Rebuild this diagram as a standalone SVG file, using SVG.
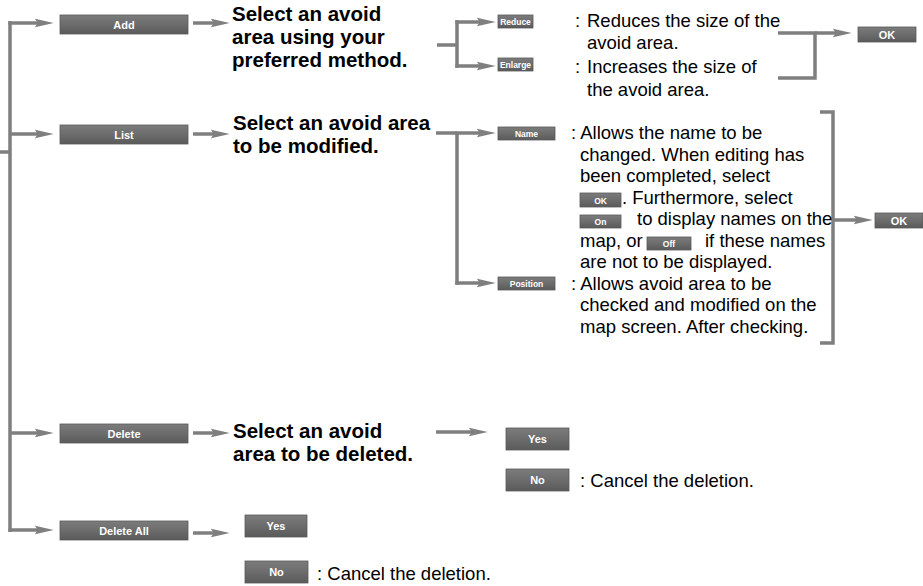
<svg xmlns="http://www.w3.org/2000/svg" width="923" height="586" viewBox="0 0 923 586">
<defs>
<linearGradient id="bg" x1="0" y1="0" x2="0" y2="1">
<stop offset="0" stop-color="#7c7c7c"/>
<stop offset="0.5" stop-color="#6c6c6c"/>
<stop offset="1" stop-color="#5a5a5a"/>
</linearGradient>
<marker id="ah" viewBox="0 0 18 9" markerWidth="19" markerHeight="9.5" refX="6" refY="4.5" orient="auto" markerUnits="userSpaceOnUse">
<path d="M0,0.3 L18,4.5 L0,8.7 L3,4.5 z" fill="#7f7f7f"/>
</marker>
</defs>
<style>
.btn{fill:url(#bg);stroke:#5a5a5a;stroke-width:0.8}
.bl{fill:#fff;font-family:"Liberation Sans",Arial,sans-serif;font-weight:bold;font-size:11px;text-anchor:middle}
.sm{font-size:8.5px}
.ln{fill:none;stroke:#7f7f7f;stroke-width:3.5}
.ar{fill:none;stroke:#7f7f7f;stroke-width:3.5;marker-end:url(#ah)}
.hd{font-family:"Liberation Sans",Arial,sans-serif;font-weight:bold;font-size:20.5px;fill:#000}
.tx{font-family:"Liberation Sans",Arial,sans-serif;font-size:18.5px;fill:#000}
</style>
<rect width="923" height="586" fill="#fff"/>

<g id="connectors">
<path class="ln" d="M0,152 H10 M10,21 V532"/>
<path class="ar" d="M8.5,23 H41"/>
<path class="ar" d="M10,134 H41"/>
<path class="ar" d="M10,433 H41"/>
<path class="ar" d="M8.5,530 H41"/>
<path class="ar" d="M193,23 H217"/>
<path class="ar" d="M193,134 H217"/>
<path class="ar" d="M193,433 H217"/>
<path class="ar" d="M193,533 H217"/>
<path class="ln" d="M437,45 H457 M457,20.3 V67.7"/>
<path class="ar" d="M455.3,22 H483"/>
<path class="ar" d="M455.3,66 H483"/>
<path class="ln" d="M436,133 H457 M457,133 V284.7"/>
<path class="ar" d="M455.3,133 H483"/>
<path class="ar" d="M455.3,283 H483"/>
<path class="ln" d="M778,33 H815 M815,31.3 V79.7 M778,78 H816.7"/>
<path class="ar" d="M815,33 H839"/>
<path class="ln" d="M820,112 H833 M833,110.3 V344.7 M820,343 H834.7"/>
<path class="ar" d="M833,220 H860"/>
<path class="ar" d="M436,432 H475"/>
</g>

<g id="add"><rect class="btn" x="60" y="15" width="128" height="19"/><text class="bl" x="124" y="28.5">Add</text></g>
<g id="list"><rect class="btn" x="60" y="125" width="128" height="19"/><text class="bl" x="124" y="138.5">List</text></g>
<g id="delete"><rect class="btn" x="60" y="424" width="128" height="19"/><text class="bl" x="124" y="437.5">Delete</text></g>
<g id="deleteall"><rect class="btn" x="60" y="521" width="128" height="19"/><text class="bl" x="124" y="534.5">Delete All</text></g>

<g id="add-text"><text class="hd"><tspan x="232" y="21">Select an avoid</tspan><tspan x="232" y="44">area using your</tspan><tspan x="232" y="67">preferred method.</tspan></text></g>
<g id="list-text"><text class="hd"><tspan x="233" y="130">Select an avoid area</tspan><tspan x="233" y="153">to be modified.</tspan></text></g>
<g id="delete-text"><text class="hd"><tspan x="233" y="438">Select an avoid</tspan><tspan x="233" y="461">area to be deleted.</tspan></text></g>

<g id="reduce"><rect class="btn" x="498" y="15" width="35" height="13"/><text class="bl sm" x="515.5" y="25">Reduce</text></g>
<g id="enlarge"><rect class="btn" x="498" y="58" width="35" height="13"/><text class="bl sm" x="515.5" y="68">Enlarge</text></g>
<g id="reduce-text"><text class="tx"><tspan x="575" y="27">:</tspan><tspan x="587" y="27">Reduces the size of the</tspan><tspan x="587" y="49">avoid area.</tspan></text></g>
<g id="enlarge-text"><text class="tx"><tspan x="575" y="73">:</tspan><tspan x="587" y="73">Increases the size of</tspan><tspan x="587" y="96">the avoid area.</tspan></text></g>
<g id="ok1"><rect class="btn" x="858" y="27" width="58" height="15"/><text class="bl" x="887" y="38.5">OK</text></g>

<g id="name"><rect class="btn" x="498" y="127" width="57" height="13"/><text class="bl sm" x="526.5" y="137">Name</text></g>
<g id="position"><rect class="btn" x="498" y="277" width="57" height="13"/><text class="bl sm" x="526.5" y="287">Position</text></g>
<g id="name-text"><text class="tx"><tspan x="571" y="139">: Allows the name to be</tspan><tspan x="580" y="161">changed. When editing has</tspan><tspan x="580" y="182">been completed, select</tspan><tspan x="622" y="204">. Furthermore, select</tspan><tspan x="637" y="225">to display names on the</tspan><tspan x="580" y="247">map, or</tspan><tspan x="705" y="247">if these names</tspan><tspan x="580" y="268">are not to be displayed.</tspan></text>
<rect class="btn" x="580" y="193" width="41" height="14"/><text class="bl sm" x="600.5" y="203.5">OK</text>
<rect class="btn" x="580" y="215" width="41" height="13"/><text class="bl sm" x="600.5" y="225">On</text>
<rect class="btn" x="647" y="237" width="44" height="13"/><text class="bl sm" x="669" y="247">Off</text></g>
<g id="position-text"><text class="tx"><tspan x="571" y="290">: Allows avoid area to be</tspan><tspan x="580" y="311">checked and modified on the</tspan><tspan x="580" y="333">map screen. After checking.</tspan></text></g>
<g id="ok2"><rect class="btn" x="875" y="213" width="48" height="15"/><text class="bl" x="899" y="224.5">OK</text></g>

<g id="yes1"><rect class="btn" x="506" y="428" width="63" height="22"/><text class="bl" x="537.5" y="443">Yes</text></g>
<g id="no1"><rect class="btn" x="506" y="469" width="63" height="22"/><text class="bl" x="537.5" y="484">No</text></g>
<g id="no1-text"><text class="tx" x="580" y="487">:  Cancel the deletion.</text></g>
<g id="yes2"><rect class="btn" x="245" y="515" width="62" height="22"/><text class="bl" x="276" y="530">Yes</text></g>
<g id="no2"><rect class="btn" x="245" y="561" width="63" height="22"/><text class="bl" x="276.5" y="576">No</text></g>
<g id="no2-text"><text class="tx" x="317" y="580">:  Cancel the deletion.</text></g>
</svg>
